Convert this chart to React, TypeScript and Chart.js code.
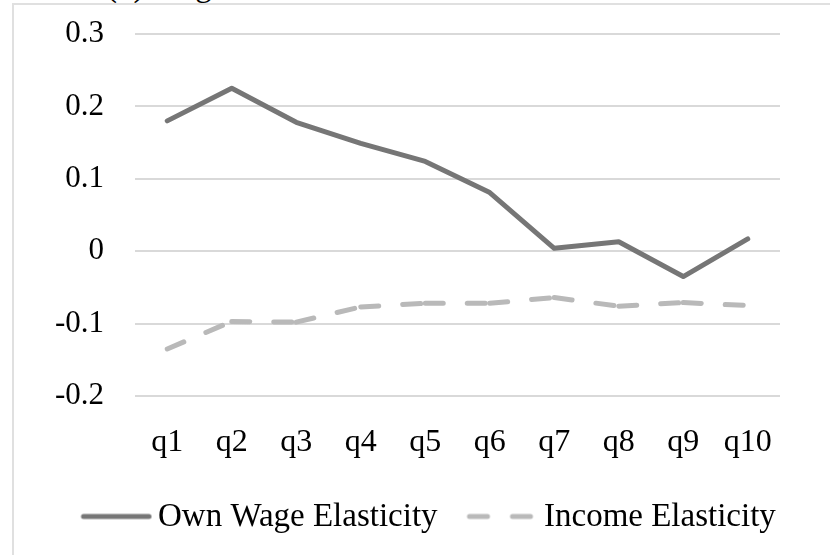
import React, { useEffect, useRef } from 'react';
import { Chart, registerables } from 'chart.js';

Chart.register(...registerables);

const categories = ['q1', 'q2', 'q3', 'q4', 'q5', 'q6', 'q7', 'q8', 'q9', 'q10'];
const ownWageElasticity = [0.18, 0.225, 0.178, 0.149, 0.124, 0.081, 0.004, 0.013, -0.035, 0.017];
const incomeElasticity = [-0.135, -0.097, -0.098, -0.077, -0.072, -0.072, -0.064, -0.076, -0.071, -0.075];
const seriesNames = ['Own Wage Elasticity', 'Income Elasticity'];
const yTickValues = [-0.2, -0.1, 0, 0.1, 0.2, 0.3];
const yTickLabels = ['-0.2', '-0.1', '0', '0.1', '0.2', '0.3'];
const titleText = '(b) Wage';

const W = 830;
const H = 555;
const FONT = "'Liberation Serif', 'Times New Roman', serif";
const OWN_COLOR = '#767676';
const INC_COLOR = '#b9b9b9';

function makeSample(kind: 'solid' | 'dashed'): HTMLCanvasElement {
  const c = document.createElement('canvas');
  c.width = 82;
  c.height = 20;
  const g = c.getContext('2d')!;
  g.lineWidth = 5;
  g.lineCap = 'round';
  g.strokeStyle = kind === 'solid' ? OWN_COLOR : INC_COLOR;
  g.beginPath();
  if (kind === 'solid') {
    g.moveTo(13, 9);
    g.lineTo(78.5, 9);
  } else {
    g.moveTo(13, 9);
    g.lineTo(31, 9);
    g.moveTo(56, 9);
    g.lineTo(74, 9);
  }
  g.stroke();
  return c;
}

export default function App() {
  const ref = useRef<HTMLCanvasElement | null>(null);

  useEffect(() => {
    if (!ref.current) return;
    const LEG_FONT = 33;
    const BOX = 60;
    const HALF = LEG_FONT / 2;
    const mctx = document.createElement('canvas').getContext('2d')!;
    mctx.font = `${LEG_FONT}px ${FONT}`;
    const tw1 = mctx.measureText(seriesNames[0]).width;
    const tw2 = mctx.measureText(seriesNames[1]).width;
    const item1X = 81.5;
    const item2X = 467.5;
    const pad = Math.max(4, item2X - item1X - (BOX + HALF + tw1));
    const rowWidth = (BOX + HALF + tw1 + pad) + (BOX + HALF + tw2 + pad);
    const leftPad = Math.max(0, 2 * item1X - pad - W + rowWidth);
    const bottomPad = 11;
    const legendH = LEG_FONT + pad + 10;
    const legendTop = H - bottomPad - legendH;
    const plotTop = 34;
    const plotBottom = 396;
    const plotLeft = 135;
    const plotRight = 780;
    const xAxisH = legendTop - plotBottom;

    const sample1 = makeSample('solid');
    const sample2 = makeSample('dashed');

    const chart = new Chart(ref.current, {
      type: 'line',
      data: {
        labels: categories,
        datasets: [
          {
            label: seriesNames[0],
            data: ownWageElasticity,
            borderColor: OWN_COLOR,
            backgroundColor: OWN_COLOR,
            borderWidth: 5,
            borderCapStyle: 'round',
            borderJoinStyle: 'round',
            pointRadius: 0,
            pointHoverRadius: 0,
            tension: 0,
            fill: false,
          },
          {
            label: seriesNames[1],
            data: incomeElasticity,
            borderColor: INC_COLOR,
            backgroundColor: INC_COLOR,
            borderWidth: 5,
            borderDash: [18, 24],
            borderCapStyle: 'round',
            borderJoinStyle: 'round',
            pointRadius: 0,
            pointHoverRadius: 0,
            tension: 0,
            fill: false,
            segment: {
              borderDashOffset: (ctx: any) => (ctx.p0DataIndex % 2 ? 0.001 : 0),
            },
          },
        ],
      },
      options: {
        responsive: false,
        animation: false,
        devicePixelRatio: 1,
        events: [],
        layout: {
          padding: { left: leftPad, right: 0, top: plotTop, bottom: bottomPad },
        },
        plugins: {
          title: { display: false },
          tooltip: { enabled: false },
          legend: {
            display: true,
            position: 'bottom',
            labels: {
              usePointStyle: true,
              pointStyleWidth: BOX,
              boxHeight: 20,
              padding: pad,
              color: '#000',
              font: { family: FONT, size: LEG_FONT },
              generateLabels: () => [
                {
                  text: seriesNames[0],
                  pointStyle: sample1,
                  fillStyle: OWN_COLOR,
                  strokeStyle: OWN_COLOR,
                  lineWidth: 0,
                  hidden: false,
                  datasetIndex: 0,
                  fontColor: '#000',
                },
                {
                  text: seriesNames[1],
                  pointStyle: sample2,
                  fillStyle: INC_COLOR,
                  strokeStyle: INC_COLOR,
                  lineWidth: 0,
                  hidden: false,
                  datasetIndex: 1,
                  fontColor: '#000',
                },
              ] as any,
            },
          },
        },
        scales: {
          x: {
            type: 'category',
            offset: true,
            grid: { display: false },
            border: { display: false },
            ticks: {
              color: '#000',
              font: { family: FONT, size: 32 },
              padding: 19,
              maxRotation: 0,
              autoSkip: false,
            },
            afterFit: (scale: any) => {
              scale.height = xAxisH;
              scale.paddingLeft = 0;
              scale.paddingRight = 0;
            },
          },
          y: {
            type: 'linear',
            position: 'left',
            min: -0.2,
            max: 0.3,
            grid: { color: '#d9d9d9', lineWidth: 2, drawTicks: false },
            border: { display: false },
            ticks: {
              color: '#000',
              font: { family: FONT, size: 31 },
              padding: 31,
              callback: (_v: any, i: number) => yTickLabels[i],
            },
            afterBuildTicks: (scale: any) => {
              scale.ticks = yTickValues.map((v) => ({ value: v }));
            },
            afterFit: (scale: any) => {
              scale.width = plotLeft - leftPad;
              scale.paddingTop = 0;
              scale.paddingBottom = 0;
            },
          },
          yRight: {
            type: 'linear',
            position: 'right',
            display: true,
            grid: { display: false, drawTicks: false },
            border: { display: false },
            ticks: { display: false },
            afterFit: (scale: any) => {
              scale.width = W - plotRight;
              scale.paddingTop = 0;
              scale.paddingBottom = 0;
            },
          },
        },
      } as any,
    });
    return () => chart.destroy();
  }, []);

  return (
    <div style={{ position: 'absolute', left: 0, top: 0, width: W, height: H, overflow: 'hidden', background: '#fff' }}>
      <div
        style={{
          position: 'absolute',
          left: 106,
          top: -31,
          fontFamily: FONT,
          fontSize: 33,
          lineHeight: '33px',
          color: '#000',
          whiteSpace: 'nowrap',
        }}
      >
        {titleText}
      </div>
      <div
        style={{
          position: 'absolute',
          left: 12,
          top: 3,
          width: W - 12,
          height: H - 3,
          boxSizing: 'border-box',
          borderLeft: '2px solid #e0e0e0',
          borderTop: '2px solid #e0e0e0',
        }}
      />
      <canvas ref={ref} width={W} height={H} style={{ position: 'absolute', left: 0, top: 0, width: W, height: H }} />
    </div>
  );
}
